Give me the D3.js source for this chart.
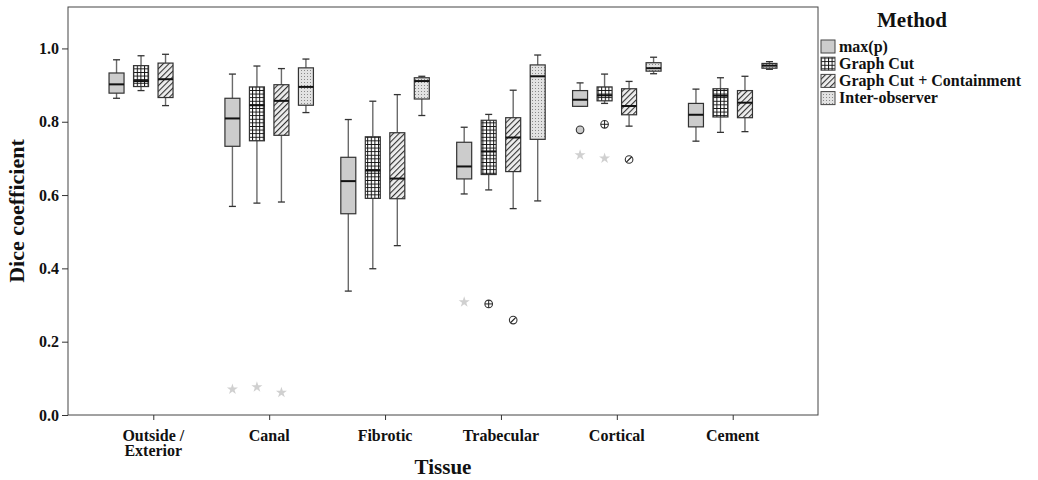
<!DOCTYPE html>
<html>
<head>
<meta charset="utf-8">
<script src="https://cdn.jsdelivr.net/npm/d3@7"></script>
<style>
  body { margin: 0; background: #fff; }
  svg text { font-family: "Liberation Serif", "Times New Roman", serif; font-weight: bold; fill: #111; }
</style>
</head>
<body>
<svg id="chart" width="1038" height="480"></svg>
<script>
/* DATA */
var tissues = ["Outside / Exterior", "Canal", "Fibrotic", "Trabecular", "Cortical", "Cement"];
var methods = ["max(p)", "Graph Cut", "Graph Cut + Containment", "Inter-observer"];
var yTicks = [0.0, 0.2, 0.4, 0.6, 0.8, 1.0];

// [lower whisker, q1, median, q3, upper whisker] per tissue
var maxpStats = [[0.864, 0.878, 0.902, 0.933, 0.969], [0.569, 0.733, 0.809, 0.864, 0.930], [0.338, 0.549, 0.638, 0.703, 0.806],
                 [0.603, 0.644, 0.678, 0.744, 0.785], [0.842, 0.842, 0.860, 0.885, 0.906], [0.747, 0.786, 0.819, 0.850, 0.889]];
var gcStats   = [[0.885, 0.896, 0.911, 0.953, 0.980], [0.578, 0.748, 0.845, 0.895, 0.952], [0.399, 0.591, 0.667, 0.759, 0.856],
                 [0.614, 0.656, 0.719, 0.804, 0.820], [0.850, 0.857, 0.872, 0.895, 0.930], [0.771, 0.813, 0.871, 0.890, 0.920]];
var gccStats  = [[0.844, 0.866, 0.916, 0.960, 0.984], [0.581, 0.763, 0.857, 0.901, 0.945], [0.462, 0.590, 0.645, 0.770, 0.874],
                 [0.563, 0.664, 0.757, 0.811, 0.886], [0.788, 0.819, 0.843, 0.890, 0.910], [0.773, 0.811, 0.852, 0.885, 0.924]];
var ioStats   = [null, [0.825, 0.845, 0.895, 0.947, 0.971], [0.817, 0.862, 0.911, 0.920, 0.924],
                 [0.584, 0.752, 0.924, 0.955, 0.982], [0.931, 0.938, 0.946, 0.961, 0.976], [0.943, 0.946, 0.953, 0.959, 0.964]];

// outliers: tissue, method, value, kind
var outliers = [
  ["Canal", "max(p)", 0.070, "star"], ["Canal", "Graph Cut", 0.076, "star"], ["Canal", "Graph Cut + Containment", 0.061, "star"],
  ["Trabecular", "max(p)", 0.308, "star"], ["Trabecular", "Graph Cut", 0.303, "circle"], ["Trabecular", "Graph Cut + Containment", 0.259, "circle"],
  ["Cortical", "max(p)", 0.778, "circle"], ["Cortical", "max(p)", 0.709, "star"], ["Cortical", "Graph Cut", 0.793, "circle"],
  ["Cortical", "Graph Cut", 0.700, "star"], ["Cortical", "Graph Cut + Containment", 0.697, "circle"]
];

var allStats = [maxpStats, gcStats, gccStats, ioStats];

/* LAYOUT */
var pLeft = 68, pRight = 818, pTop = 7, pBottom = 415;
var svg = d3.select('#chart');

var x = d3.scalePoint().domain(tissues).range([pLeft, pRight]).padding(0.736);
var sub = d3.scaleBand().domain(methods).range([-44.25, 44.25]).paddingInner(0.388);
var y = d3.scaleLinear().domain([0, 1.113]).range([pBottom, pTop]);

/* PATTERNS */
var defs = svg.append('defs');
var pGrid = defs.append('pattern').attr('id', 'grid').attr('patternUnits', 'userSpaceOnUse')
  .attr('width', 3.6).attr('height', 3.6);
pGrid.append('rect').attr('width', 3.6).attr('height', 3.6).attr('fill', '#fff');
pGrid.append('path').attr('d', 'M0,0.5H3.6M0.5,0V3.6').attr('stroke', '#111').attr('stroke-width', 1);

var pHatch = defs.append('pattern').attr('id', 'hatch').attr('patternUnits', 'userSpaceOnUse')
  .attr('width', 4).attr('height', 4).attr('patternTransform', 'rotate(45)');
pHatch.append('rect').attr('width', 4).attr('height', 4).attr('fill', '#eeeeee');
pHatch.append('line').attr('x1', 0).attr('y1', 0).attr('x2', 0).attr('y2', 4)
  .attr('stroke', '#333').attr('stroke-width', 2.2);

var pDots = defs.append('pattern').attr('id', 'dots').attr('patternUnits', 'userSpaceOnUse')
  .attr('width', 3).attr('height', 3);
pDots.append('rect').attr('width', 3).attr('height', 3).attr('fill', '#e2e2e2');
pDots.append('rect').attr('x', 1).attr('y', 1).attr('width', 1).attr('height', 1).attr('fill', '#888');

var fills = ["#cccccc", "url(#grid)", "url(#hatch)", "url(#dots)"];

/* FRAME + AXES */
svg.append('rect').attr('x', pLeft).attr('y', pTop).attr('width', pRight - pLeft).attr('height', pBottom - pTop)
  .attr('fill', 'none').attr('stroke', '#444').attr('stroke-width', 1);

var yAxis = svg.append('g').attr('transform', 'translate(' + pLeft + ',0)')
  .call(d3.axisLeft(y).tickValues(yTicks).tickFormat(d3.format('.1f')).tickSize(6).tickPadding(3));
yAxis.select('.domain').remove();
yAxis.selectAll('line').attr('stroke', '#333');
yAxis.selectAll('text').style('font-size', '16px').attr('fill', '#111');

var xAxis = svg.append('g').attr('transform', 'translate(0,' + pBottom + ')')
  .call(d3.axisBottom(x).tickSize(5).tickFormat(''));
xAxis.select('.domain').remove();
xAxis.selectAll('line').attr('stroke', '#333');

tissues.forEach(function(t){
  var lines = t == "Outside / Exterior" ? ["Outside /", "Exterior"] : [t];
  lines.forEach(function(l, i){
    svg.append('text').attr('x', x(t)).attr('y', pBottom + 26 + i * 15)
      .attr('text-anchor', 'middle').style('font-size', '16px').text(l);
  });
});

svg.append('text').attr('x', (pLeft + pRight) / 2).attr('y', 474).attr('text-anchor', 'middle')
  .style('font-size', '21px').text('Tissue');
svg.append('text').attr('transform', 'translate(24,' + (pTop + pBottom) / 2 + ') rotate(-90)')
  .attr('text-anchor', 'middle').style('font-size', '22px').text('Dice coefficient');

/* BOXES */
var bw = sub.bandwidth();
methods.forEach(function(m, mi){
  allStats[mi].forEach(function(s, ti){
    if (!s) return;
    var cx = x(tissues[ti]) + sub(m) + bw / 2;
    var g = svg.append('g');
    g.append('line').attr('x1', cx).attr('x2', cx).attr('y1', y(s[0])).attr('y2', y(s[1]))
      .attr('stroke', '#6a6a6a').attr('stroke-width', 1.4);
    g.append('line').attr('x1', cx).attr('x2', cx).attr('y1', y(s[3])).attr('y2', y(s[4]))
      .attr('stroke', '#6a6a6a').attr('stroke-width', 1.4);
    [s[0], s[4]].forEach(function(v){
      g.append('line').attr('x1', cx - 3.5).attr('x2', cx + 3.5).attr('y1', y(v)).attr('y2', y(v))
        .attr('stroke', '#333').attr('stroke-width', 1.3);
    });
    g.append('rect').attr('x', cx - bw / 2).attr('y', y(s[3])).attr('width', bw)
      .attr('height', Math.max(1, y(s[1]) - y(s[3]))).attr('fill', fills[mi])
      .attr('stroke', '#333').attr('stroke-width', 1.2);
    g.append('line').attr('x1', cx - bw / 2).attr('x2', cx + bw / 2).attr('y1', y(s[2])).attr('y2', y(s[2]))
      .attr('stroke', '#111').attr('stroke-width', 2);
  });
});

/* OUTLIERS */
var star = d3.symbol().type(d3.symbolStar).size(38);
outliers.forEach(function(o){
  var mi = methods.indexOf(o[1]);
  var cx = x(o[0]) + sub(o[1]) + bw / 2, cy = y(o[2]);
  if (o[3] == "star") {
    svg.append('path').attr('d', star).attr('transform', 'translate(' + cx + ',' + cy + ')')
      .attr('fill', '#d0d0d0');
    return;
  }
  var g = svg.append('g').attr('transform', 'translate(' + cx + ',' + cy + ')');
  g.append('circle').attr('r', 3.8).attr('fill', mi == 0 ? '#cccccc' : '#fff')
    .attr('stroke', '#333').attr('stroke-width', 1.1);
  if (mi == 1) g.append('path').attr('d', 'M-3.8,0H3.8M0,-3.8V3.8').attr('stroke', '#222').attr('stroke-width', 1);
  if (mi == 2) g.append('path').attr('d', 'M-2.7,2.7L2.7,-2.7').attr('stroke', '#222').attr('stroke-width', 1.2);
});

/* LEGEND */
svg.append('text').attr('x', 912).attr('y', 27).attr('text-anchor', 'middle')
  .style('font-size', '21px').text('Method');
methods.forEach(function(m, i){
  var ly = 40 + i * 17.2;
  svg.append('rect').attr('x', 821).attr('y', ly).attr('width', 14).attr('height', 13)
    .attr('fill', fills[i]).attr('stroke', '#444').attr('stroke-width', 1);
  svg.append('text').attr('x', 839).attr('y', ly + 11.5).style('font-size', '16px').text(m);
});
</script>
</body>
</html>
